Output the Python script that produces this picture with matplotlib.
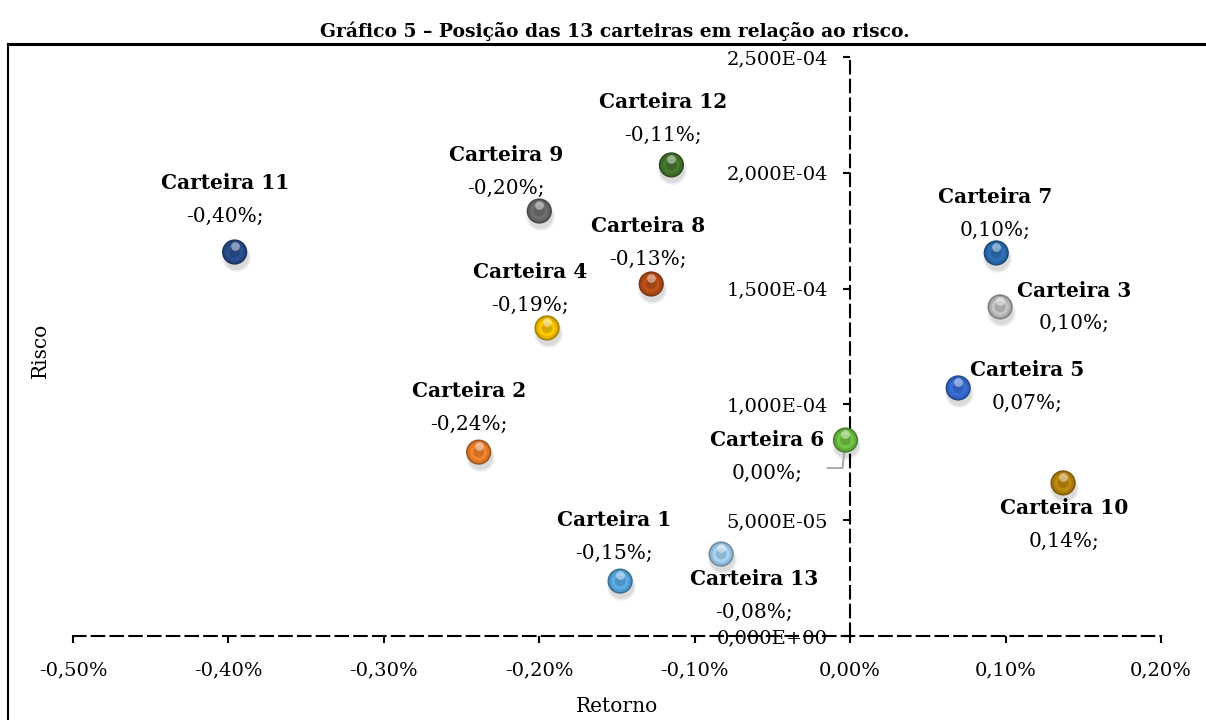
import matplotlib
matplotlib.use("Agg")
import matplotlib.pyplot as plt
from matplotlib.lines import Line2D
from matplotlib.ticker import FuncFormatter, MultipleLocator
from matplotlib.colors import to_rgb
import matplotlib.transforms as mtransforms

plt.rcParams['font.family'] = ['DejaVu Serif']

# ---- data ----
names = ["Carteira 11", "Carteira 9", "Carteira 12", "Carteira 8", "Carteira 4",
         "Carteira 2", "Carteira 1", "Carteira 13", "Carteira 6", "Carteira 7",
         "Carteira 3", "Carteira 5", "Carteira 10"]
retorno = [-0.396, -0.200, -0.115, -0.128, -0.195, -0.239, -0.148, -0.083,
           -0.003, 0.094, 0.0965, 0.0695, 0.137]            # percent
risco = [1.658e-4, 1.835e-4, 2.034e-4, 1.520e-4, 1.330e-4, 7.94e-5, 2.37e-5,
         3.54e-5, 8.46e-5, 1.654e-4, 1.421e-4, 1.071e-4, 6.61e-5]
value_labels = ["-0,40%;", "-0,20%;", "-0,11%;", "-0,13%;", "-0,19%;", "-0,24%;",
                "-0,15%;", "-0,08%;", "0,00%;", "0,10%;", "0,10%;", "0,07%;", "0,14%;"]
colors = ["#2A4F90", "#6E6E6E", "#46782E", "#C0501A", "#FFC800", "#F5842E",
          "#5AADE6", "#A8D4F5", "#72C444", "#2E70B8", "#C4C4C4", "#3A6FD8", "#C08A0C"]
# label offsets (pixels) of the name line relative to the point
label_dx = [-10, -33, -8, -3, -17, -10, -6, 33, -78, -1, 74, 69, 1]
label_dy = [69, 56, 63, 58, 56, 61, 61, -25, 0, 56, 16, 18, -25]

title = "Gráfico 5 – Posição das 13 carteiras em relação ao risco."


def mix(c, other, t):
    a = to_rgb(c)
    b = to_rgb(other)
    return tuple(a[k] * (1 - t) + b[k] * t for k in range(3))


fig = plt.figure(figsize=(12.06, 7.2), dpi=100)
ax = fig.add_axes([73/1206, 1 - 636/720, 1088/1206, 579/720])
ax.set_xlim(-0.5, 0.2)
ax.set_ylim(0, 2.5e-4)

for side in ["top", "right"]:
    ax.spines[side].set_visible(False)
ax.spines["left"].set_position(("data", 0))
ax.spines["bottom"].set_position(("data", 0))
for side in ["left", "bottom"]:
    ax.spines[side].set_linestyle((0, (6, 3)))
    ax.spines[side].set_linewidth(1.5)
    ax.spines[side].set_color("black")

ax.xaxis.set_major_locator(MultipleLocator(0.1))
ax.yaxis.set_major_locator(MultipleLocator(5e-5))
ax.xaxis.set_major_formatter(FuncFormatter(lambda v, p: f"{v:.2f}%".replace(".", ",")))
ax.yaxis.set_major_formatter(FuncFormatter(lambda v, p: f"{v:.3E}".replace(".", ",")))
ax.tick_params(axis="both", direction="out", length=5, width=1.5, labelsize=14)
ax.tick_params(axis="x", pad=13)
ax.tick_params(axis="y", pad=11)
for lbl in ax.get_xticklabels():
    lbl.set_clip_on(False)

# shadow
shadow_tr = mtransforms.offset_copy(ax.transData, fig=fig, x=1, y=-5, units="dots")
ax.scatter(retorno, risco, s=420, color="#000000", alpha=0.07, transform=shadow_tr,
           zorder=3, linewidths=0, clip_on=False)
ax.scatter(retorno, risco, s=320, color="#000000", alpha=0.08, transform=shadow_tr,
           zorder=3, linewidths=0, clip_on=False)

# leader line for Carteira 6
i6 = names.index("Carteira 6")
p0 = mtransforms.offset_copy(ax.transData, fig=fig, x=0, y=0, units="dots")
p1 = mtransforms.offset_copy(ax.transData, fig=fig, x=-3, y=-28, units="dots")
p2 = mtransforms.offset_copy(ax.transData, fig=fig, x=-18, y=-28, units="dots")
(x6, y6) = (retorno[i6], risco[i6])
disp = [t.transform((x6, y6)) for t in (p0, p1, p2)]
inv = ax.transData.inverted()
pts = [inv.transform(d) for d in disp]
ax.plot([p[0] for p in pts], [p[1] for p in pts], color="#A6A6A6", lw=1.3, zorder=3.5)

# sphere shading: dark rim, body, lighter centre, small highlight
ax.scatter(retorno, risco, s=330, c=[mix(c, "black", 0.35) for c in colors],
           edgecolors="none", zorder=4, clip_on=False)
ax.scatter(retorno, risco, s=250, c=[mix(c, "black", 0.12) for c in colors],
           edgecolors="none", zorder=4.1, clip_on=False)
ax.scatter(retorno, risco, s=150, c=colors, edgecolors="none", zorder=4.2, clip_on=False)
ax.scatter(retorno, risco, s=60, c=[mix(c, "black", 0.15) for c in colors],
           edgecolors="none", zorder=4.3, clip_on=False)
hl_tr = mtransforms.offset_copy(ax.transData, fig=fig, x=0, y=6, units="dots")
ax.scatter(retorno, risco, s=40, color="white", alpha=0.45, transform=hl_tr,
           zorder=5, linewidths=0, clip_on=False)

for n, x, y, v, dx, dy in zip(names, retorno, risco, value_labels, label_dx, label_dy):
    ax.annotate(n, (x, y), xytext=(dx, dy), textcoords="offset pixels",
                ha="center", va="center", fontsize=14.5, fontweight="bold", zorder=6)
    ax.annotate(v, (x, y), xytext=(dx, dy - 33), textcoords="offset pixels",
                ha="center", va="center", fontsize=14.5, zorder=6)

fig.text(615/1206, 1 - 31/720, title, ha="center", va="center", fontsize=13.5, fontweight="bold")
fig.text(40/1206, 1 - 350/720, "Risco", ha="center", va="center", rotation=90, fontsize=14.5)
fig.text(617/1206, 1 - 706/720, "Retorno", ha="center", va="center", fontsize=14.5)

# outer frame (left and top lines)
fig.add_artist(Line2D([8/1206, 8/1206], [0, 1 - 44/720], color="black", lw=1.5,
                      transform=fig.transFigure))
fig.add_artist(Line2D([8/1206, 1], [1 - 44/720, 1 - 44/720], color="black", lw=2.2,
                      transform=fig.transFigure))

fig.savefig("out.png", dpi=100)
